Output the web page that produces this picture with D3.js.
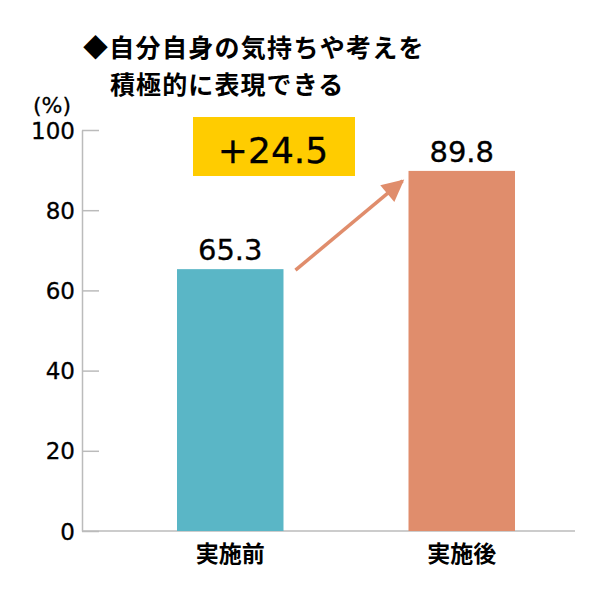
<!DOCTYPE html>
<html lang="ja">
  <head>
    <meta charset="UTF-8" />
    <title>実施前後</title>
    <style>
      body {
        margin: 0;
        background: #fff;
      }
      .num {
        font-family: 'DejaVu Sans', sans-serif;
        stroke: #000;
        stroke-width: 0.3px;
      }
      .jp {
        font-family: 'Noto Sans CJK JP', sans-serif;
        font-weight: bold;
      }
    </style>
  </head>
  <body>
    <svg width="600" height="600"></svg>
    <script src="https://cdn.jsdelivr.net/npm/d3@7/dist/d3.min.js"></script>
    <script>
      const titleLines = ['◆自分自身の気持ちや考えを', '積極的に表現できる'];
      const categories = ['実施前', '実施後'];
      const values = [65.3, 89.8];
      const barColors = ['#5ab6c6', '#e08d6c'];
      const yTicks = [0, 20, 40, 60, 80, 100];
      const diffLabel = '+24.5';

      const svg = d3.select('svg');

      const x = d3
        .scaleBand()
        .domain(categories)
        .range([177, 515])
        .paddingInner(0.54);
      const y = d3.scaleLinear().domain([0, 100]).range([531, 130]);

      // title
      svg
        .append('text')
        .attr('class', 'jp')
        .attr('x', 83)
        .attr('y', 57)
        .attr('font-size', 25)
        .attr('letter-spacing', 1.3)
        .text(titleLines[0]);
      svg
        .append('text')
        .attr('class', 'jp')
        .attr('x', 110)
        .attr('y', 94)
        .attr('font-size', 25)
        .attr('letter-spacing', 1.1)
        .text(titleLines[1]);

      svg
        .append('text')
        .attr('class', 'num')
        .attr('x', 52)
        .attr('y', 113)
        .attr('text-anchor', 'middle')
        .attr('font-size', 22)
        .text('(%)');

      // y axis
      const yAxis = svg
        .append('g')
        .attr('transform', 'translate(82,0)')
        .call(
          d3
            .axisLeft(y)
            .tickValues(yTicks)
            .tickSizeInner(-17)
            .tickSizeOuter(0)
            .tickPadding(7),
        );
      yAxis.selectAll('path,line').attr('stroke', '#bbb').attr('stroke-width', 1.5);
      yAxis
        .selectAll('text')
        .attr('class', 'num')
        .attr('font-size', 23)
        .attr('fill', '#000')
        .attr('dy', '0.35em');

      // x axis line
      svg
        .append('line')
        .attr('x1', 82)
        .attr('x2', 575)
        .attr('y1', y(0))
        .attr('y2', y(0))
        .attr('stroke', '#bbb')
        .attr('stroke-width', 1.5);

      // bars
      svg
        .selectAll('.bar')
        .data(values)
        .enter()
        .append('rect')
        .attr('class', 'bar')
        .attr('x', (d, i) => x(categories[i]))
        .attr('width', x.bandwidth())
        .attr('y', (d) => y(d))
        .attr('height', (d) => y(0) - y(d))
        .attr('fill', (d, i) => barColors[i]);

      // value labels
      svg
        .selectAll('.val')
        .data(values)
        .enter()
        .append('text')
        .attr('class', 'num')
        .attr('x', (d, i) => x(categories[i]) + x.bandwidth() / 2)
        .attr('y', (d) => y(d) - 9)
        .attr('text-anchor', 'middle')
        .attr('font-size', 29)
        .text((d) => d.toFixed(1));

      // category labels
      svg
        .selectAll('.cat')
        .data(categories)
        .enter()
        .append('text')
        .attr('class', 'jp')
        .attr('x', (d) => x(d) + x.bandwidth() / 2)
        .attr('y', 562)
        .attr('text-anchor', 'middle')
        .attr('font-size', 23)
        .text((d) => d);

      // difference badge
      svg
        .append('rect')
        .attr('x', 193)
        .attr('y', 117)
        .attr('width', 162)
        .attr('height', 59)
        .attr('fill', '#ffcc00');
      svg
        .append('text')
        .attr('class', 'num')
        .attr('x', 273)
        .attr('y', 163)
        .attr('text-anchor', 'middle')
        .attr('font-size', 36)
        .text(diffLabel);

      // arrow
      svg
        .append('defs')
        .append('marker')
        .attr('id', 'head')
        .attr('viewBox', '0 0 10 10')
        .attr('refX', 9)
        .attr('refY', 5)
        .attr('markerUnits', 'userSpaceOnUse')
        .attr('markerWidth', 26)
        .attr('markerHeight', 22)
        .attr('orient', 'auto')
        .append('path')
        .attr('d', 'M0,0 L10,5 L0,10 Z')
        .attr('fill', barColors[1]);

      const x0 = x(categories[0]) + x.bandwidth() + 12;
      const x1 = x(categories[1]) - 6;
      svg
        .append('line')
        .attr('x1', x0)
        .attr('y1', y(values[0]) + 1)
        .attr('x2', x1)
        .attr('y2', y(values[1]) + 10)
        .attr('stroke', barColors[1])
        .attr('stroke-width', 3.5)
        .attr('marker-end', 'url(#head)');
    </script>
  </body>
</html>
